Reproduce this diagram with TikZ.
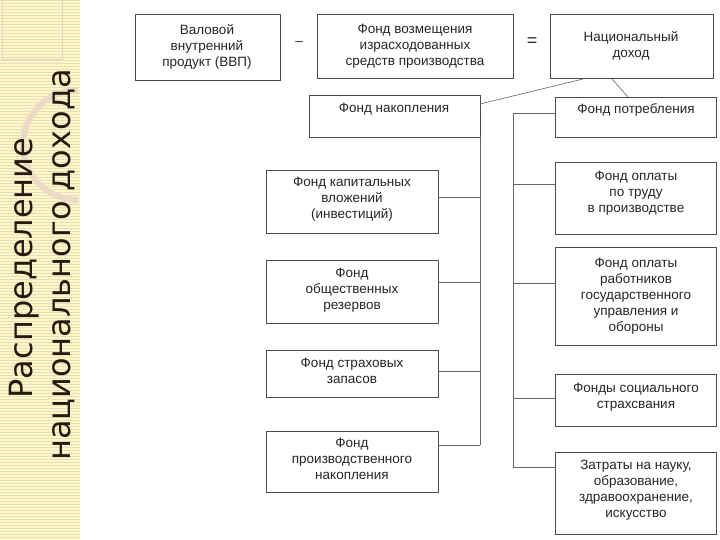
\documentclass[tikz,border=0pt]{standalone}
\usepackage{fontspec}
\setmainfont{Liberation Sans}
\newfontfamily\titlefont{DejaVu Sans}
\begin{document}
\begin{tikzpicture}[x=1pt,y=-1pt,
  box/.style={draw=black!70,line width=0.6pt,fill=white},
  txt/.style={align=center,font=\fontsize{13.5}{16}\selectfont,text=black!85,inner sep=0pt},
  ln/.style={draw=black!60,line width=0.6pt}]
\useasboundingbox (0,0) rectangle (720,540);
\fill[white] (0,0) rectangle (720,540);
\fill[brown!20!yellow!25!white] (0,0) rectangle (80,540);
\foreach \i in {0,3,...,540} \draw[brown!30!white,line width=0.4pt] (0,\i) -- (80,\i);
\draw[brown!35!white,line width=1pt] (2,0) -- (2,60) -- (62,60) -- (62,0);
\draw[brown!30!white,line width=6pt] (78,200) arc (90:270:55);
\node[rotate=90,font=\titlefont\fontsize{32}{34}\selectfont,text=black!80!brown,inner sep=0pt] (t1) at (24,268) {Распределение};
\node[rotate=90,font=\titlefont\fontsize{32}{34}\selectfont,text=black!80!brown,inner sep=0pt] (t2) at (64,265) {национального дохода};
% top row
\draw[box] (135,14) rectangle (280,80); \node[txt] (vvp) at (207,47) {Валовой\\внутренний\\продукт (ВВП)};
\node[txt] (minus) at (299,44) {--};
\draw[box] (317,14) rectangle (513,78); \node[txt] (fv) at (415,46) {Фонд возмещения\\израсходованных\\средств производства};
\node[txt,font=\fontsize{18}{18}\selectfont] (eq) at (532,42) {=};
\draw[box] (550,14) rectangle (713,78); \node[txt] (nd) at (631,46) {Национальный\\доход};
% level 2
\draw[box] (309,95) rectangle (480,137); \node[txt] (fn) at (394,109) {Фонд накопления};
\draw[box] (555,97) rectangle (716,137); \node[txt] (fp) at (636,110) {Фонд потребления};
\coordinate (nd1) at (583,79); \coordinate (nd2) at (612,79);
\coordinate (fn1) at (480,104); \coordinate (fp1) at (628,97);
\draw[ln] (nd1) -- (fn1); \draw[ln] (nd2) -- (fp1);
% left branch
\draw[ln] (480,137) -- (480,445);
\draw[box] (266,170) rectangle (438,233); \node[txt] (a1) at (352,199) {Фонд капитальных\\вложений\\(инвестиций)};
\draw[box] (266,260) rectangle (438,323); \node[txt] (a2) at (352,290) {Фонд\\общественных\\резервов};
\draw[box] (266,350) rectangle (438,397); \node[txt] (a3) at (352,371) {Фонд страховых\\запасов};
\draw[box] (266,431) rectangle (438,492); \node[txt] (a4) at (352,459) {Фонд\\производственного\\накопления};
\foreach \y in {197,282,371,445} \draw[ln] (438,\y) -- (480,\y);
% right branch
\draw[ln] (513,113) -- (513,467);
\foreach \y in {113,184,283,398,467} \draw[ln] (513,\y) -- (555,\y);
\draw[box] (555,162) rectangle (716,234); \node[txt] (b1) at (636,193) {Фонд оплаты\\по труду\\в производстве};
\draw[box] (555,247) rectangle (716,345); \node[txt] (b2) at (636,296) {Фонд оплаты\\работников\\государственного\\управления и\\обороны};
\draw[box] (555,374) rectangle (716,426); \node[txt] (b3) at (636,397) {Фонды социального\\страхсвания};
\draw[box] (555,452) rectangle (716,534); \node[txt] (b4) at (636,490) {Затраты на науку,\\образование,\\здравоохранение,\\искусство};
\end{tikzpicture}
\end{document}
